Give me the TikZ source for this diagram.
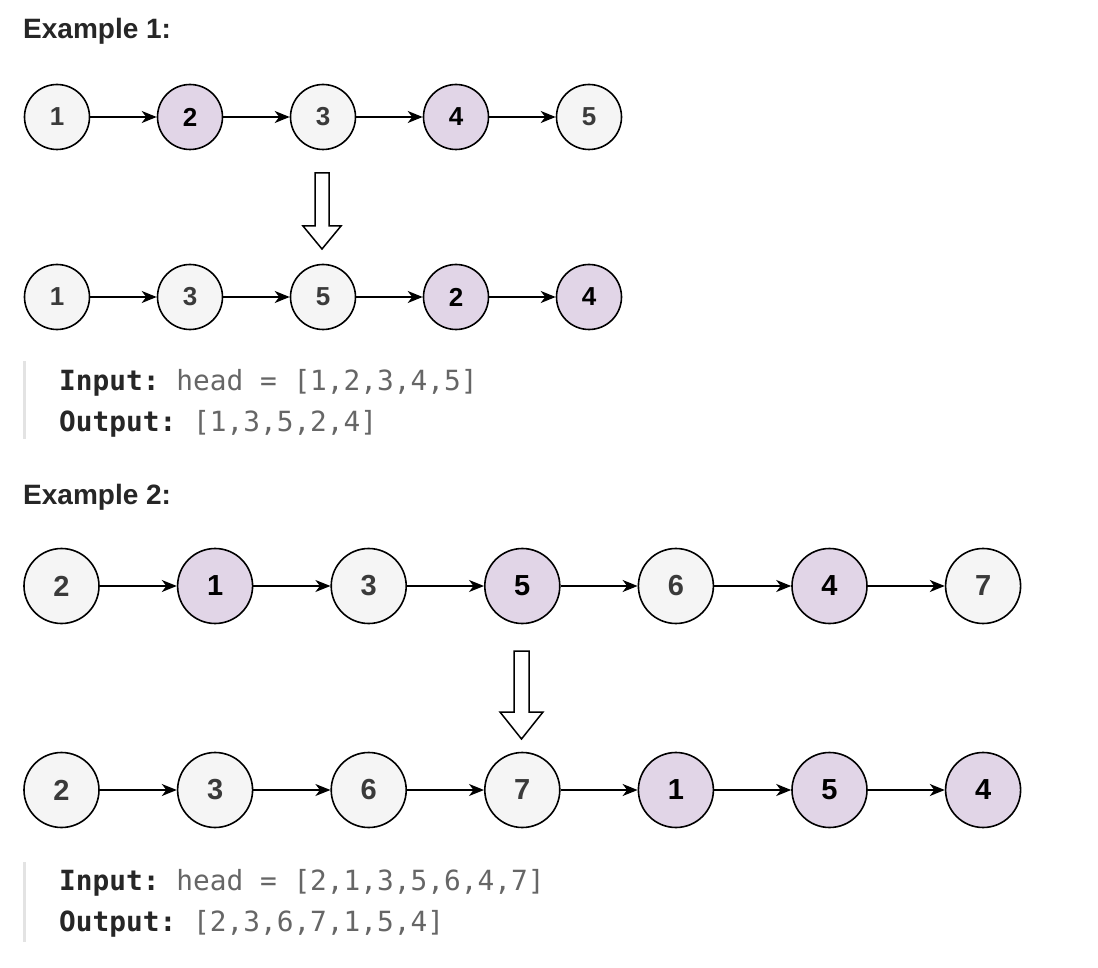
\documentclass[tikz,border=0pt]{standalone}
\usepackage{fontspec}
\setmainfont{Liberation Sans}
\setmonofont{DejaVu Sans Mono}
\usepackage{tikz}
\usetikzlibrary{arrows.meta,positioning}
\definecolor{nodegray}{HTML}{F5F5F5}
\definecolor{nodepurple}{HTML}{E1D5E7}
\definecolor{labgray}{HTML}{3A3A3A}
\definecolor{codedark}{HTML}{262626}
\definecolor{codegray}{HTML}{666666}
\definecolor{bargray}{HTML}{E3E3E3}

\tikzset{
	listnode/.style={circle,draw=black,line width=1.6pt,inner sep=0pt},
	smallnode/.style={minimum size=65pt,font=\fontsize{26}{26}\selectfont\bfseries},
	bignode/.style={minimum size=75pt,font=\fontsize{29}{29}\selectfont\bfseries},
	wnode/.style={fill=nodegray,text=labgray},
	pnode/.style={fill=nodepurple,text=black},
	link/.style={line width=1.5pt,-{Stealth[length=15pt,width=12pt,inset=4.5pt]}},
	hollow/.style={draw=black,line width=1.5pt,fill=white,line join=miter},
	heading/.style={anchor=base west,inner sep=0pt,text=codedark,font=\fontsize{28}{32}\selectfont\bfseries},
	codeline/.style={anchor=base west,inner sep=0pt,text=codegray,font=\fontsize{27.8}{32}\ttfamily},
	quotebar/.style={fill=bargray,draw=none}
}
\newcommand{\keyword}[1]{\textcolor{codedark}{\textbf{#1}}}

\begin{document}
\begin{tikzpicture}[x=1pt,y=-1pt]
	\useasboundingbox[fill=white] (0,0) rectangle (1098,968);
	% Example 1
	\node[heading] (title1) at (23,39) {Example 1:};
	\foreach \lab/\sty [count=\i] in {1/wnode,2/pnode,3/wnode,4/pnode,5/wnode}
		\node[listnode,smallnode,\sty] (in1\i) at ({57+133*(\i-1)},117) {\lab};
	\foreach \lab/\sty [count=\i] in {1/wnode,3/wnode,5/wnode,2/pnode,4/pnode}
		\node[listnode,smallnode,\sty] (out1\i) at ({57+133*(\i-1)},297) {\lab};
	\foreach \i [evaluate=\i as \j using int(\i+1)] in {1,...,4} {
		\draw[link] (in1\i) -- (in1\j);
		\draw[link] (out1\i) -- (out1\j);
	}
	\draw[hollow] (315,173) -- (329,173) -- (329,226) -- (341,226) -- (322,249)
		-- (303,226) -- (315,226) -- cycle;
	\fill[quotebar] (23,361) rectangle (26,439);
	\node[codeline] (input1) at (59,390) {\keyword{Input:} head = [1,2,3,4,5]};
	\node[codeline] (output1) at (59,431) {\keyword{Output:} [1,3,5,2,4]};
	% Example 2
	\node[heading] (title2) at (23,504) {Example 2:};
	\foreach \lab/\sty [count=\i] in {2/wnode,1/pnode,3/wnode,5/pnode,6/wnode,4/pnode,7/wnode}
		\node[listnode,bignode,\sty] (in2\i) at ({61.5+153.6*(\i-1)},586) {\lab};
	\foreach \lab/\sty [count=\i] in {2/wnode,3/wnode,6/wnode,7/wnode,1/pnode,5/pnode,4/pnode}
		\node[listnode,bignode,\sty] (out2\i) at ({61.5+153.6*(\i-1)},790) {\lab};
	\foreach \i [evaluate=\i as \j using int(\i+1)] in {1,...,6} {
		\draw[link] (in2\i) -- (in2\j);
		\draw[link] (out2\i) -- (out2\j);
	}
	\draw[hollow] (514,651) -- (529,651) -- (529,712) -- (543,712) -- (521.5,739)
		-- (500,712) -- (514,712) -- cycle;
	\fill[quotebar] (23,862) rectangle (26,942);
	\node[codeline] (input2) at (59,890) {\keyword{Input:} head = [2,1,3,5,6,4,7]};
	\node[codeline] (output2) at (59,931) {\keyword{Output:} [2,3,6,7,1,5,4]};
\end{tikzpicture}
\end{document}
